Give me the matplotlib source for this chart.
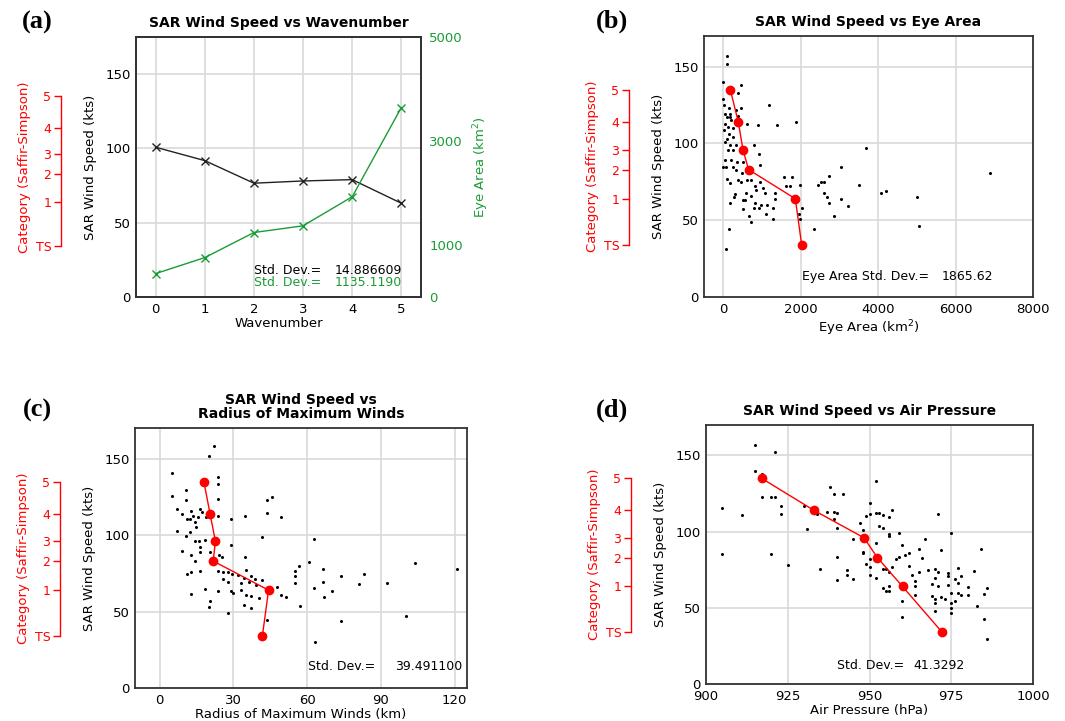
import matplotlib
matplotlib.use("Agg")
import matplotlib.pyplot as plt

# ---------------- data ----------------
# Saffir-Simpson category thresholds (kts)
cat_ticks = [34, 64, 83, 96, 114, 135]
cat_labels = ["TS", "1", "2", "3", "4", "5"]
cat_means_y = [135, 114, 96, 83, 64, 34]

# (a) wavenumber means
wavenumber = [0, 1, 2, 3, 4, 5]
wind_by_wave = [100.8, 91.8, 76.6, 78.1, 79.0, 63.1]
eye_by_wave = [450, 758, 1240, 1369, 1928, 3644]

# (b) eye area vs wind speed
eye_area = [85, 93, 0, 449, 390, 0, 1169, 25, 153, 449, 322, 51, 169, 390, 85, 203,
            1864, 51, 619, 898, 1381, 110, 254, 25, 153, 254, 85, 51, 322, 169, 237,
            110, 788, 932, 51, 203, 347, 254, 68, 941, 0, 322, 492, 619, 85, 169, 449,
            703, 814, 847, 1085, 1322, 1576, 1763, 1610, 1720, 1975, 593, 280, 720,
            551, 169, 830, 983, 1127, 915, 788, 1271, 1330, 509, 661, 1110, 1280, 703,
            136, 68, 2350, 3689, 3034, 2723, 2588, 3496, 4084, 4202, 2613, 2689, 3034,
            2739, 3210, 2866, 5000, 5067, 6899, 2451, 2511, 171, 1954, 2040, 1990, 514,
            943, 1029, 386, 514, 300]
wind_b = [157, 152, 140, 138, 133, 129, 125, 125, 123, 123, 122, 119, 119, 118, 117,
          115, 114, 113, 113, 112, 112, 111, 110, 109, 106, 104, 103, 101, 99, 99, 96,
          96, 99, 93, 89, 89, 88, 85, 85, 86, 85, 83, 81, 76, 77, 74, 75, 76, 72, 70,
          68, 68, 78, 78, 72, 72, 73, 68, 65, 66, 63, 61, 61, 60, 60, 58, 58, 58, 64,
          57, 53, 54, 51, 49, 44, 31, 44, 97, 85, 79, 75, 73, 68, 69, 68, 65, 64, 61,
          59, 53, 65, 46, 81, 73, 75, 117, 54, 58, 51, 88, 75, 71, 76, 63, 67]
eye_cat_means = [180, 386, 506, 651, 1860, 2023]

# (c) radius of maximum winds vs wind speed
rmw = [22, 20.1, 5.2, 23.8, 23.8, 10.7, 5.2, 23.8, 10.6, 7.2, 12.6, 16.3, 9, 13.7, 11,
       15.8, 12.3, 17.1, 23.8, 18.7, 29.2, 34.8, 14.3, 14.7, 7.2, 12.3, 10.7, 14.5,
       16.1, 18.3, 16.3, 29.1, 9, 12.6, 16.3, 20.4, 24.1, 25.3, 14.3, 16.3, 11, 12.7,
       23.8, 25.7, 27.7, 29.5, 25.7, 27.7, 34.8, 35.1, 31.7, 34.4, 37.1, 38.8, 33.2,
       36.4, 39.1, 41.5, 18.3, 23.7, 29.7, 33, 35.1, 37.1, 40.4, 12.6, 20.4, 19.9,
       27.9, 29.1, 34.4, 37.1, 45.6, 43.5, 43.5, 49.4, 41.7, 62.6, 60.7, 56.6, 55.1,
       55.1, 66.4, 73.9, 83.1, 103.7, 120.9, 55.1, 62.6, 66.4, 70, 81.1, 92.4, 47.7,
       49.4, 51.3, 66.8, 56.9, 43.5, 73.9, 100.2, 63]
wind_c = [158, 152, 140.5, 138, 133.5, 129.7, 125.3, 123.4, 122.7, 117.3, 115.8, 117.3,
          113.6, 112.3, 110.8, 111.9, 110.6, 115.2, 112.3, 111.9, 110.8, 112.6, 108.7,
          105, 102.8, 102.2, 99.4, 96.3, 96.3, 96.8, 92, 93.3, 89.8, 87, 88.7, 89.2, 87,
          85.5, 83.3, 76.8, 74.7, 76, 76.2, 75.8, 75.8, 74.7, 71.4, 69.3, 85.9, 77.3, 74,
          71.9, 73.4, 71.2, 68.6, 69, 67.5, 70.8, 64.9, 63.2, 62.1, 64.3, 61, 60, 58.9,
          61.5, 57.1, 52.8, 49.1, 63.2, 54.5, 52.4, 125.1, 122.9, 114.3, 112.1, 98.7,
          97.2, 82.3, 79.7, 76.6, 73.2, 77.9, 73.4, 74.7, 81.8, 78.1, 68.4, 65.6, 69.3,
          63.4, 68.2, 68.4, 65.8, 60.8, 59.3, 59.7, 53.7, 44.6, 43.5, 47.2, 30]
rmw_cat_means = [18.0, 20.5, 22.7, 21.8, 44.3, 41.8]

# (d) air pressure vs wind speed
pressure = [915, 921, 915, 917, 917, 920, 921, 923, 923, 905, 911, 905, 920, 925, 930,
            931, 934, 937, 938, 939, 942, 939, 940, 939, 940, 945, 948, 940, 935, 943,
            943, 940, 945, 952, 950, 950, 949, 947, 952, 953, 954, 956, 957, 953, 954,
            956, 956, 959, 948, 948, 949, 950, 950, 950, 952, 952, 954, 955, 956, 954,
            955, 956, 956, 957, 958, 959, 960, 961, 962, 962, 963, 964, 964, 964, 960,
            960, 965, 966, 967, 965, 968, 969, 969, 970, 970, 971, 972, 971, 972, 973,
            970, 970, 971, 974, 974, 975, 975, 975, 975, 975, 976, 977, 976, 978, 978,
            980, 980, 982, 983, 984, 985, 985, 986, 986, 977, 977, 974, 970]
wind_d = [157, 152, 140, 138, 123, 123, 123, 117, 111.5, 115.4, 110.8, 85.5, 85.5, 78,
          117, 102, 111.7, 112.8, 129, 125, 125, 113, 112, 108.4, 102.4, 95.2, 86.6,
          83.3, 75.5, 74.9, 71.6, 68.4, 69, 133.3, 119, 111.4, 110.3, 105.9, 112.1,
          112.5, 111, 109.9, 114.3, 103.7, 102.2, 98.2, 97.1, 98.9, 101.1, 86.2, 78.7,
          81.8, 76.5, 71.5, 92.8, 69.3, 75.2, 75.7, 73.7, 63.2, 61, 61, 64.3, 76.5, 81.8,
          83.1, 91.2, 84.6, 85.7, 77.6, 71.5, 67.8, 64.3, 58.3, 54.4, 44.1, 88.6, 82.5,
          95.4, 73.7, 74.8, 65.6, 57.7, 75.2, 69.3, 111.6, 87.9, 64.4, 57.2, 56.1, 53.3,
          47.8, 73.7, 72.6, 64.9, 59.9, 52.9, 50.2, 46.3, 99.3, 68.6, 66, 54.6, 70.8,
          58.3, 63.4, 58.3, 74.1, 51.1, 88.8, 59.4, 42.5, 62.7, 29.4, 75.9, 59.9, 70.8, 56]
pres_cat_means = [917.0, 933.0, 948.3, 952.4, 960.1, 972.2]

# ---------------- styling ----------------
GREEN = "#1a9c35"
GRID = "#d9d9d9"
SPINE = "#333333"
W, H = 1065, 721

fig = plt.figure(figsize=(W / 100, H / 100), dpi=100)


def box(l, t, r, b):
    return [l / W, 1 - b / H, (r - l) / W, (b - t) / H]


def style_main(ax, ylim=(0, 170)):
    ax.set_ylim(*ylim)
    ax.set_yticks([0, 50, 100, 150])
    ax.grid(True, color=GRID, lw=1.2)
    ax.set_axisbelow(True)
    for s in ax.spines.values():
        s.set_color(SPINE)
        s.set_linewidth(1.3)
    ax.tick_params(length=0, pad=4, labelsize=9.5)
    ax.set_ylabel("SAR Wind Speed (kts)", fontsize=9.5, labelpad=6)


def add_category_axis(ax):
    cax = ax.twinx()
    cax.set_ylim(ax.get_ylim())
    for s in ("top", "right", "bottom"):
        cax.spines[s].set_visible(False)
    sp = cax.spines["left"]
    sp.set_visible(True)
    sp.set_position(("outward", 54))
    sp.set_bounds(cat_ticks[0], cat_ticks[-1])
    sp.set_color("red")
    sp.set_linewidth(1.0)
    cax.yaxis.set_ticks_position("left")
    cax.yaxis.set_label_position("left")
    cax.set_yticks(cat_ticks, cat_labels)
    cax.tick_params(axis="y", colors="red", length=5, width=1.0, labelsize=9, pad=2)
    cax.set_ylabel("Category (Saffir-Simpson)", color="red", fontsize=9.5, labelpad=3)
    cax.patch.set_visible(False)
    return cax


def panel_letter(x, y, s):
    fig.text(x / W, 1 - y / H, s, ha="center", va="center",
             fontfamily="Liberation Serif", fontweight="bold", fontsize=19)


def scatter_panel(ax, xs, ys, means_x):
    ax.plot(xs, ys, "o", ms=2.2, color="black", mec="none", zorder=3)
    ax.plot(means_x, cat_means_y, "-o", color="red", lw=1.0, ms=6,
            mec="red", zorder=4)


# ---------- (a) ----------
axa = fig.add_axes(box(136, 37, 421, 297))
style_main(axa, ylim=(0, 175))
axa.set_xlim(-0.4, 5.4)
axa.plot(wavenumber, wind_by_wave, "-x", color="#222222", lw=1.0, ms=6, mew=1.0, zorder=3)
axa.set_xlabel("Wavenumber", fontsize=9.5, labelpad=1)
axa.set_title("SAR Wind Speed vs Wavenumber", fontsize=10, fontweight="bold", pad=7)
axe = axa.twinx()
axe.set_ylim(0, 5000)
axe.set_yticks([0, 1000, 3000, 5000])
axe.plot(wavenumber, eye_by_wave, "-x", color=GREEN, lw=1.0, ms=6, mew=1.0, zorder=3)
axe.tick_params(axis="y", length=0, pad=6, labelsize=9.5, colors=GREEN)
axe.set_ylabel("Eye Area (km$^2$)", color=GREEN, fontsize=9.5, labelpad=6)
for s in axe.spines.values():
    s.set_color(SPINE)
    s.set_linewidth(1.3)
add_category_axis(axa)
axa.text(0.414, 0.10, "Std. Dev.=", transform=axa.transAxes, fontsize=9, va="center")
axa.text(0.933, 0.10, "14.886609", transform=axa.transAxes, fontsize=9, va="center", ha="right")
axa.text(0.414, 0.054, "Std. Dev.=", transform=axa.transAxes, fontsize=9, va="center", color=GREEN)
axa.text(0.933, 0.054, "1135.1190", transform=axa.transAxes, fontsize=9, va="center",
         ha="right", color=GREEN)
panel_letter(37, 22, "(a)")

# ---------- (b) ----------
axb = fig.add_axes(box(704, 36, 1033, 297))
style_main(axb)
axb.set_xlim(-500, 8000)
axb.set_xticks([0, 2000, 4000, 6000, 8000])
scatter_panel(axb, eye_area, wind_b, eye_cat_means)
axb.set_xlabel("Eye Area (km$^2$)", fontsize=9.5, labelpad=2)
axb.set_title("SAR Wind Speed vs Eye Area", fontsize=10, fontweight="bold", pad=7)
add_category_axis(axb)
axb.text(0.298, 0.077, "Eye Area Std. Dev.=", transform=axb.transAxes, fontsize=9, va="center")
axb.text(0.878, 0.077, "1865.62", transform=axb.transAxes, fontsize=9, va="center", ha="right")
panel_letter(612, 21, "(b)")

# ---------- (c) ----------
axc = fig.add_axes(box(135, 428, 467, 688))
style_main(axc)
axc.set_xlim(-10, 125)
axc.set_xticks([0, 30, 60, 90, 120])
scatter_panel(axc, rmw, wind_c, rmw_cat_means)
axc.set_xlabel("Radius of Maximum Winds (km)", fontsize=9.5, labelpad=1)
axc.set_title("SAR Wind Speed vs\nRadius of Maximum Winds", fontsize=10,
              fontweight="bold", pad=7, linespacing=1.0)
add_category_axis(axc)
axc.text(0.521, 0.081, "Std. Dev.=", transform=axc.transAxes, fontsize=9, va="center")
axc.text(0.985, 0.081, "39.491100", transform=axc.transAxes, fontsize=9, va="center", ha="right")
panel_letter(37, 410, "(c)")

# ---------- (d) ----------
axd = fig.add_axes(box(706, 425, 1033, 684))
style_main(axd)
axd.set_xlim(900, 1000)
axd.set_xticks([900, 925, 950, 975, 1000])
scatter_panel(axd, pressure, wind_d, pres_cat_means)
axd.set_xlabel("Air Pressure (hPa)", fontsize=9.5, labelpad=1)
axd.set_title("SAR Wind Speed vs Air Pressure", fontsize=10, fontweight="bold", pad=7)
add_category_axis(axd)
axd.text(0.40, 0.073, "Std. Dev.=", transform=axd.transAxes, fontsize=9, va="center")
axd.text(0.792, 0.073, "41.3292", transform=axd.transAxes, fontsize=9, va="center", ha="right")
panel_letter(612, 410, "(d)")

fig.savefig("out.png", dpi=100, facecolor="white")
